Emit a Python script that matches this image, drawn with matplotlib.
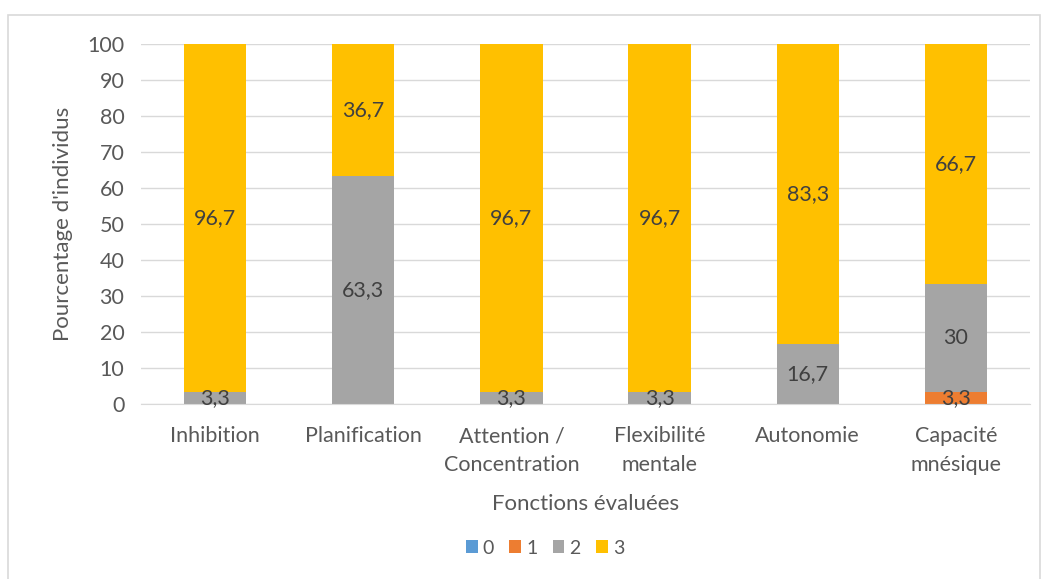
import matplotlib
matplotlib.use("Agg")
import matplotlib.pyplot as plt
from matplotlib.patches import Rectangle
import numpy as np

plt.rcParams['font.family'] = ['Lato', 'DejaVu Sans']

categories = ["Inhibition", "Planification", "Attention /\nConcentration",
              "Flexibilité\nmentale", "Autonomie", "Capacité\nmnésique"]
series_names = ["0", "1", "2", "3"]
s0 = [0, 0, 0, 0, 0, 0]
s1 = [0, 0, 0, 0, 0, 3.3]
s2 = [3.3, 63.3, 3.3, 3.3, 16.7, 30]
s3 = [96.7, 36.7, 96.7, 96.7, 83.3, 66.7]
colors = ["#5B9BD5", "#ED7D31", "#A5A5A5", "#FFC000"]
yticks = list(range(0, 101, 10))

fig = plt.figure(figsize=(10.54, 5.79), dpi=100)
fig.patches.append(Rectangle((8/1054, -0.01), 1032/1054, 1 - 15/579 + 0.01,
                             transform=fig.transFigure, fill=False,
                             edgecolor="#D9D9D9", linewidth=1.2))
ax = fig.add_axes([141/1054, 1 - 404/579, 889/1054, 360/579])

x = np.arange(len(categories))
bottom = np.zeros(len(categories))
for name, vals, c in zip(series_names, [s0, s1, s2, s3], colors):
    vals = np.array(vals, dtype=float)
    ax.bar(x, vals, 0.42, bottom=bottom, color=c, label=name, zorder=2)
    for xi, v, b in zip(x, vals, bottom):
        if v > 0:
            lab = ("%g" % v).replace(".", ",")
            ax.text(xi, b + v / 2, lab, ha="center", va="center",
                    fontsize=15.5, color="#404040", zorder=3)
    bottom += vals

ax.set_xlim(-0.5, len(categories) - 0.5)
ax.set_ylim(0, 100)
ax.set_yticks(yticks)
ax.set_yticklabels([str(t) for t in yticks], fontsize=15.5, color="#595959")
ax.set_xticks(x)
ax.set_xticklabels(categories, fontsize=15.5, color="#595959", linespacing=1.55)
ax.tick_params(axis="both", length=0)
ax.tick_params(axis="y", pad=12)
ax.tick_params(axis="x", pad=16)
ax.yaxis.grid(True, color="#D9D9D9", linewidth=1, zorder=0)
ax.set_axisbelow(True)
for sp in ["top", "right", "left"]:
    ax.spines[sp].set_visible(False)
ax.spines["bottom"].set_color("#D9D9D9")
ax.set_ylabel("Pourcentage d'individus", fontsize=16, color="#595959", labelpad=10)
ax.set_xlabel("Fonctions évaluées", fontsize=16, color="#595959", labelpad=14)

leg = fig.legend(loc="center", bbox_to_anchor=(545/1054, 1 - 548/579), ncol=4,
                 frameon=False, fontsize=14, handlelength=0.6, handleheight=0.6,
                 handletextpad=0.25, columnspacing=0.8)
for t in leg.get_texts():
    t.set_color("#595959")

fig.savefig("out.png", dpi=100)
